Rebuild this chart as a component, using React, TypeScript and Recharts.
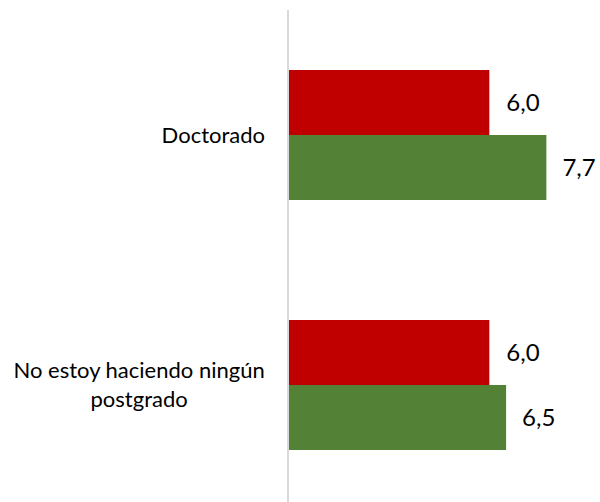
import { BarChart, Bar, XAxis, YAxis, LabelList } from "recharts";

const categories = ["Doctorado", "No estoy haciendo ningún postgrado"];
const redValues = [6.0, 6.0];
const greenValues = [7.7, 6.5];

const data = categories.map((c, i) => ({ name: c, red: redValues[i], green: greenValues[i] }));

const FONT = "Lato, 'Open Sans', sans-serif";
const FS = 22;

let ctx: CanvasRenderingContext2D | null = null;
function measure(t: string) {
  if (!ctx) ctx = document.createElement("canvas").getContext("2d");
  if (!ctx) return t.length * FS * 0.5;
  ctx.font = `${FS}px Lato`;
  return ctx.measureText(t).width;
}

function wrap(text: string, max: number) {
  const words = text.split(" ");
  const lines: string[] = [];
  let cur = "";
  for (const w of words) {
    const next = cur ? cur + " " + w : w;
    if (cur && measure(next) > max) {
      lines.push(cur);
      cur = w;
    } else cur = next;
  }
  if (cur) lines.push(cur);
  return lines;
}

const CategoryTick = (props: any) => {
  const { x, y, payload } = props;
  const lines = wrap(String(payload.value), 262);
  const maxW = Math.max(...lines.map(measure));
  const cx = x - maxW / 2;
  const lh = 29;
  const startY = y - ((lines.length - 1) * lh) / 2;
  return (
    <text textAnchor="middle" fontFamily={FONT} fontSize={FS} fill="#000">
      {lines.map((l, i) => (
        <tspan key={i} x={cx} y={startY + i * lh} dy="0.35em">{l}</tspan>
      ))}
    </text>
  );
};

const fmt = (v: any) => Number(v).toFixed(1).replace(".", ",");

export default function App() {
  return (
    <div style={{ position: "absolute", left: 0, top: 0, width: 600, height: 502, overflow: "hidden", background: "#fff" }}>
      <BarChart
        width={600}
        height={510}
        data={data}
        layout="vertical"
        margin={{ top: 10, right: 10, bottom: 0, left: 0 }}
        barCategoryGap={60}
        barGap={0}
      >
        <XAxis type="number" domain={[0, 9]} hide />
        <YAxis
          type="category"
          dataKey="name"
          width={288}
          axisLine={{ stroke: "#d9d9d9", strokeWidth: 2 }}
          tickLine={false}
          tickSize={0}
          tickMargin={23}
          tick={<CategoryTick />}
        />
        <Bar dataKey="red" fill="#c00000" barSize={65} isAnimationActive={false}>
          <LabelList dataKey="red" position="right" offset={17} formatter={fmt} fontFamily={FONT} fontSize={24} fill="#000" />
        </Bar>
        <Bar dataKey="green" fill="#538135" barSize={65} isAnimationActive={false}>
          <LabelList dataKey="green" position="right" offset={16} formatter={fmt} fontFamily={FONT} fontSize={24} fill="#000" />
        </Bar>
      </BarChart>
    </div>
  );
}
